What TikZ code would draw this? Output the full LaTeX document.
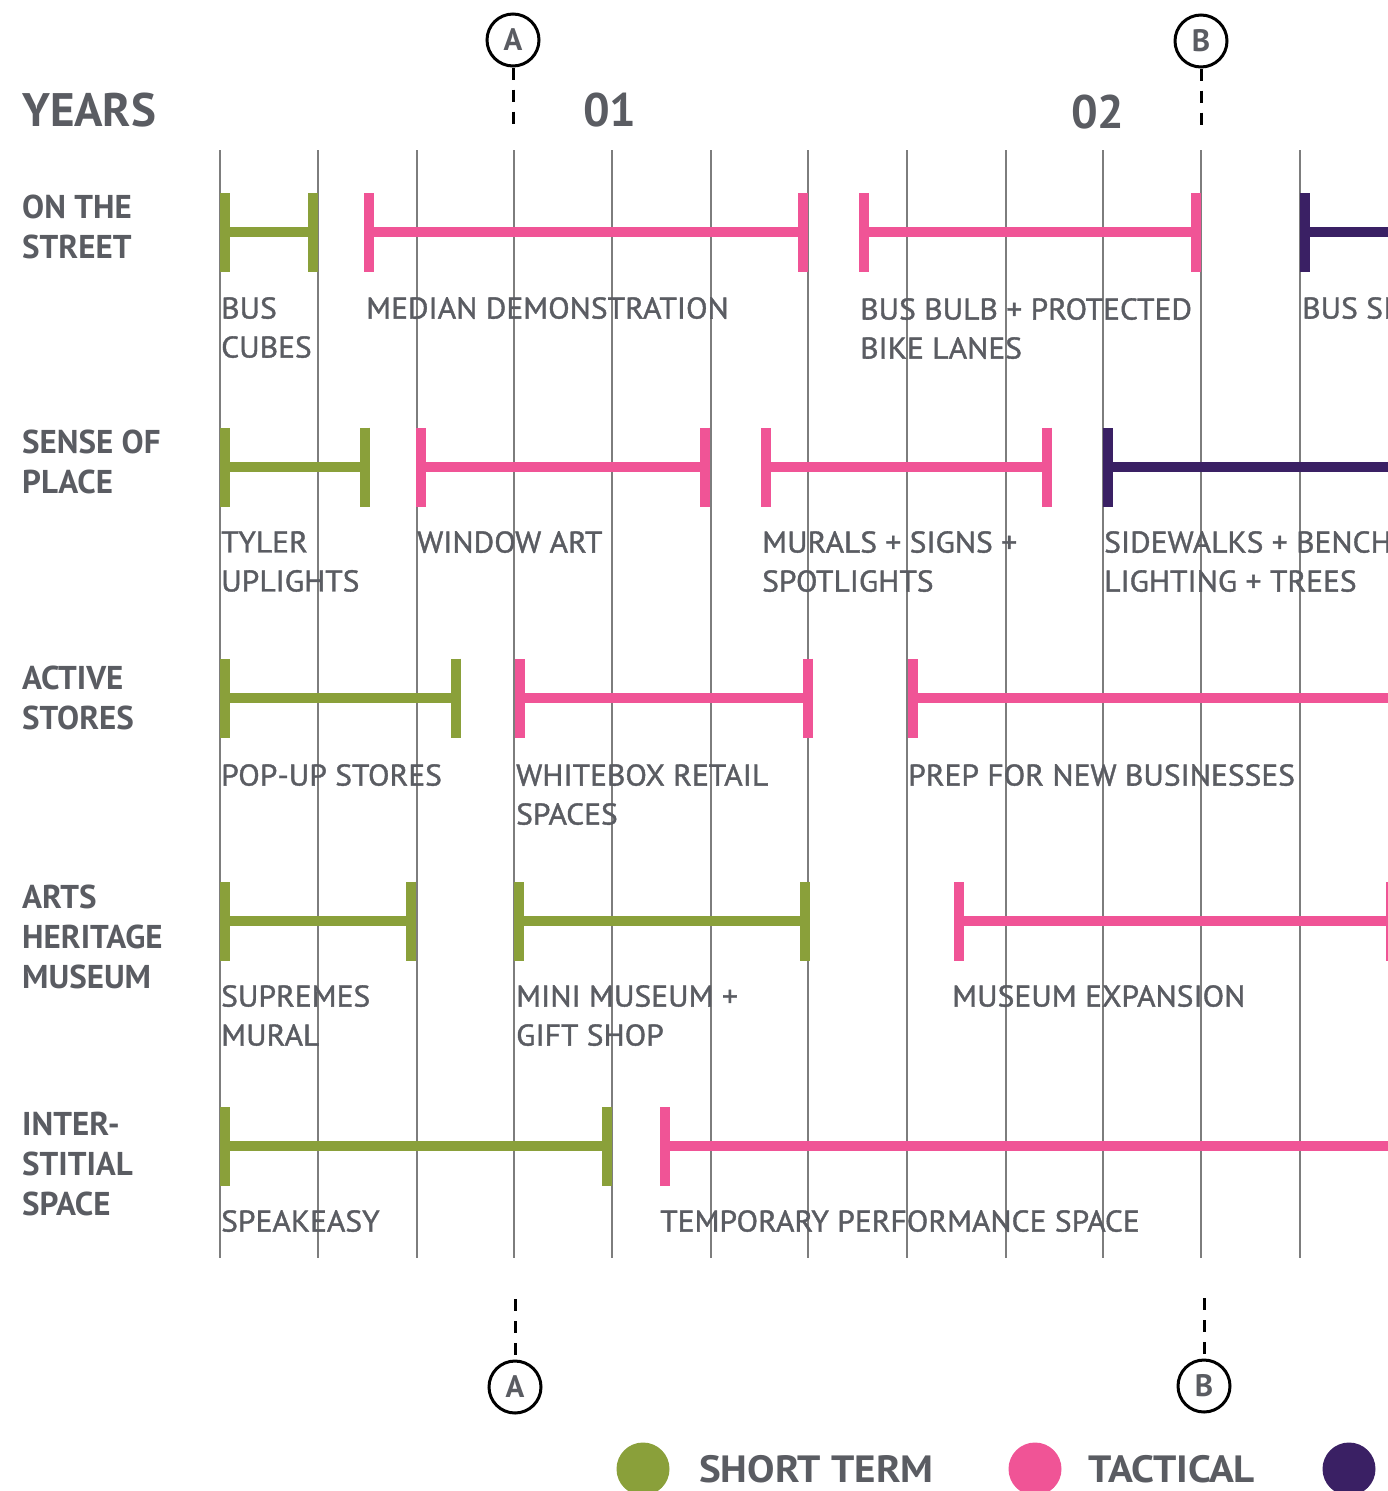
\documentclass[tikz,border=0pt]{standalone}
\usepackage{fontspec}
\setmainfont{PT Sans}
\newfontfamily\taskfont[FakeBold=1.3,FakeStretch=1.05]{PT Sans}
\newfontfamily\keyfont[FakeStretch=1.08]{PT Sans}
\usetikzlibrary{arrows.meta}
\definecolor{shortgreen}{RGB}{138,160,58}
\definecolor{tacpink}{RGB}{240,84,150}
\definecolor{longpurple}{RGB}{58,32,100}
\definecolor{txtgray}{RGB}{90,92,98}
\definecolor{gridgray}{RGB}{125,125,125}
\begin{document}
\begin{tikzpicture}[x=1pt,y=-1pt,
  gridline/.style={draw=gridgray,line width=1.2pt},
  span/.style={line width=10pt,arrows={Bar[width=79pt]-Bar[width=79pt]}},
  openspan/.style={line width=10pt,arrows={Bar[width=79pt]-}},
  rowhead/.style={anchor=north west,inner sep=0pt,align=left,text=txtgray,font=\bfseries\fontsize{33}{40}\selectfont},
  task/.style={anchor=north west,inner sep=0pt,align=left,text=txtgray,font=\taskfont\fontsize{30}{39}\selectfont},
  yearhead/.style={anchor=north west,inner sep=0pt,text=txtgray,font=\bfseries\fontsize{47}{47}\selectfont},
  marker/.style={circle,draw=black,line width=3pt,minimum size=52pt,inner sep=0pt,text=txtgray,font=\bfseries\fontsize{31}{31}\selectfont},
  cut/.style={line width=3pt,dash pattern=on 12pt off 10pt},
  key/.style={circle,minimum size=53pt,inner sep=0pt},
  keytext/.style={anchor=west,inner sep=0pt,text=txtgray,font=\keyfont\bfseries\fontsize{38}{38}\selectfont}]
\useasboundingbox (0,0) rectangle (1388,1491);
\clip (0,0) rectangle (1388,1491);

\draw[gridline] (220,150)--(220,1258);
\draw[gridline] (318,150)--(318,1258);
\draw[gridline] (417,150)--(417,1258);
\draw[gridline] (514,150)--(514,1258);
\draw[gridline] (612,150)--(612,1258);
\draw[gridline] (711,150)--(711,1258);
\draw[gridline] (808,150)--(808,1258);
\draw[gridline] (907,150)--(907,1258);
\draw[gridline] (1006,150)--(1006,1258);
\draw[gridline] (1103,150)--(1103,1258);
\draw[gridline] (1201,150)--(1201,1258);
\draw[gridline] (1300,150)--(1300,1258);

\node[yearhead] (years) at (22,93) {YEARS};
\node[yearhead] (yr1) at (583,93) {01};
\node[yearhead] (yr2) at (1071,95) {02};

\node[marker] (atop) at (513,40) {A};
\coordinate (atopend) at (513,128);
\draw[cut] (atop)--(atopend);
\node[marker] (btop) at (1201,41) {B};
\coordinate (btopend) at (1201,128);
\draw[cut] (btop)--(btopend);

\node[rowhead] (street) at (22,195) {ON THE\\STREET};
\draw[span,shortgreen] (220,232)--(318,232);
\draw[span,tacpink] (364,232)--(808,232);
\draw[span,tacpink] (859,232)--(1201,232);
\draw[openspan,longpurple] (1300,232)--(1400,232);
\node[task] (buscubes) at (221,297) {BUS\\CUBES};
\node[task] (median) at (366,297) {MEDIAN DEMONSTRATION};
\node[task] (busbulb) at (860,298) {BUS BULB + PROTECTED\\BIKE LANES};
\node[task] (bussi) at (1302,297) {BUS SI};

\node[rowhead] (place) at (22,430) {SENSE OF\\PLACE};
\draw[span,shortgreen] (220,467)--(370,467);
\draw[span,tacpink] (416,467)--(710,467);
\draw[span,tacpink] (761,467)--(1052,467);
\draw[openspan,longpurple] (1103,467)--(1400,467);
\node[task] (tyler) at (221,531) {TYLER\\UPLIGHTS};
\node[task] (window) at (417,531) {WINDOW ART};
\node[task] (murals) at (762,531) {MURALS + SIGNS +\\SPOTLIGHTS};
\node[task] (sidewalks) at (1104,531) {SIDEWALKS + BENCH\\LIGHTING + TREES};

\node[rowhead] (stores) at (22,666) {ACTIVE\\STORES};
\draw[span,shortgreen] (220,698)--(461,698);
\draw[span,tacpink] (515,698)--(813,698);
\draw[openspan,tacpink] (908,698)--(1400,698);
\node[task] (popup) at (221,764) {POP-UP STORES};
\node[task] (whitebox) at (516,764) {WHITEBOX RETAIL\\SPACES};
\node[task] (prep) at (908,764) {PREP FOR NEW BUSINESSES};

\node[rowhead] (arts) at (22,885) {ARTS\\HERITAGE\\MUSEUM};
\draw[span,shortgreen] (220,921)--(416,921);
\draw[span,shortgreen] (514,921)--(810,921);
\draw[span,tacpink] (954,921)--(1396,921);
\node[task] (supremes) at (221,985) {SUPREMES\\MURAL};
\node[task] (minimuseum) at (516,985) {MINI MUSEUM +\\GIFT SHOP};
\node[task] (expansion) at (952,985) {MUSEUM EXPANSION};

\node[rowhead] (interstitial) at (22,1112) {INTER-\\STITIAL\\SPACE};
\draw[span,shortgreen] (220,1146)--(612,1146);
\draw[openspan,tacpink] (660,1146)--(1400,1146);
\node[task] (speakeasy) at (221,1210) {SPEAKEASY};
\node[task] (performance) at (660,1210) {TEMPORARY PERFORMANCE SPACE};

\node[marker] (abot) at (515,1387) {A};
\coordinate (abotend) at (515,1299);
\draw[cut] (abotend)--(abot);
\node[marker] (bbot) at (1204,1386) {B};
\coordinate (bbotend) at (1204,1298);
\draw[cut] (bbotend)--(bbot);

\node[key,fill=shortgreen] (kshort) at (643,1469) {};
\node[keytext] (tshort) at (699,1469) {SHORT TERM};
\node[key,fill=tacpink] (ktac) at (1035,1469) {};
\node[keytext] (ttac) at (1088,1469) {TACTICAL};
\node[key,fill=longpurple] (klong) at (1349,1469) {};
\end{tikzpicture}
\end{document}
